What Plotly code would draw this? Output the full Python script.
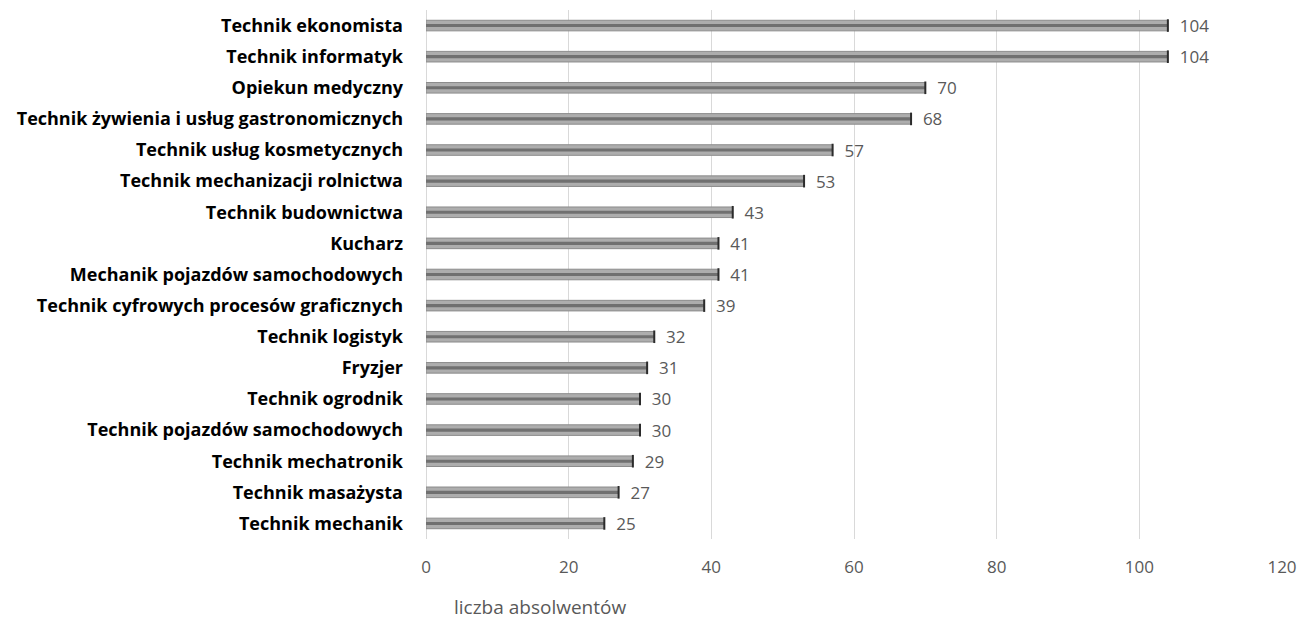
import plotly.graph_objects as go

zawody = [
    "Technik ekonomista",
    "Technik informatyk",
    "Opiekun medyczny",
    "Technik żywienia i usług gastronomicznych",
    "Technik usług kosmetycznych",
    "Technik mechanizacji rolnictwa",
    "Technik budownictwa",
    "Kucharz",
    "Mechanik pojazdów samochodowych",
    "Technik cyfrowych procesów graficznych",
    "Technik logistyk",
    "Fryzjer",
    "Technik ogrodnik",
    "Technik pojazdów samochodowych",
    "Technik mechatronik",
    "Technik masażysta",
    "Technik mechanik",
]
absolwenci = [104, 104, 70, 68, 57, 53, 43, 41, 41, 39, 32, 31, 30, 30, 29, 27, 25]

x_ticks = [0, 20, 40, 60, 80, 100, 120]

FONT = "'Open Sans', Lato, sans-serif"
GREY_TXT = "#595959"

fig = go.Figure()

# outer light part of the bar
fig.add_trace(go.Bar(
    x=absolwenci, y=zawody, orientation="h", width=0.34,
    marker=dict(color="#adadad", line=dict(color="#8c8c8c", width=1)),
    text=["  " + str(v) for v in absolwenci], textposition="outside",
    constraintext="none",
    textfont=dict(family=FONT, size=17, color=GREY_TXT),
    cliponaxis=False, hoverinfo="skip",
))
# darker middle stripe for the shaded look
fig.add_trace(go.Bar(
    x=absolwenci, y=zawody, orientation="h", width=0.1,
    marker=dict(color="#707070", line=dict(width=0)),
    hoverinfo="skip",
))
# dark cap at the end of each bar
fig.add_trace(go.Scatter(
    x=absolwenci, y=zawody, mode="markers",
    marker=dict(symbol="line-ns-open", size=9, color="#2b2b2b",
                line=dict(color="#2b2b2b", width=2)),
    hoverinfo="skip", cliponaxis=False,
))

fig.update_layout(
    barmode="overlay",
    showlegend=False,
    width=1301, height=619,
    margin=dict(l=426, r=19, t=10, b=80),
    plot_bgcolor="white", paper_bgcolor="white",
    font=dict(family=FONT),
    xaxis=dict(
        range=[0, 120], tickvals=x_ticks, automargin=False,
        showgrid=True, gridcolor="#d9d9d9", gridwidth=1,
        zeroline=True, zerolinecolor="#d9d9d9", zerolinewidth=1,
        showline=False, ticks="", ticklabelstandoff=16,
        tickfont=dict(family=FONT, size=17, color=GREY_TXT),
    ),
    yaxis=dict(
        categoryorder="array", categoryarray=zawody[::-1], automargin=False,
        range=[-0.5, len(zawody) - 0.5],
        showgrid=False, zeroline=False, showline=False, ticks="",
        ticklabelstandoff=22,
        tickfont=dict(family=FONT, size=18, color="#000000", weight="bold"),
    ),
    annotations=[dict(
        text="liczba absolwentów", xref="paper", yref="paper",
        x=0.133, y=0, yshift=-68, xanchor="center", yanchor="middle",
        showarrow=False,
        font=dict(family=FONT, size=19, color=GREY_TXT),
    )],
)

# drop the default page margin so the figure fills the window exactly
fig.write_html("out.html",
               config={"displayModeBar": False},
               post_script="document.body.style.margin='0';document.body.style.overflow='hidden';")
